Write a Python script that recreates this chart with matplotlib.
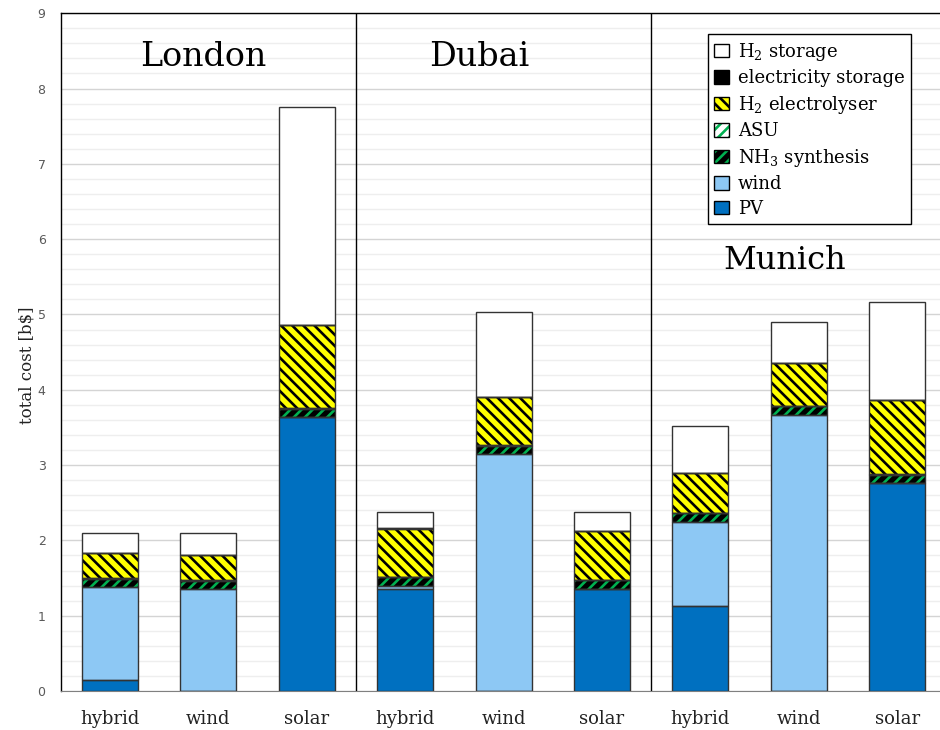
import matplotlib
matplotlib.use("Agg")
import matplotlib.pyplot as plt
import matplotlib.patches as mpatches
from matplotlib.ticker import MultipleLocator
import numpy as np

serif = "DejaVu Serif"
plt.rcParams["mathtext.fontset"] = "custom"
plt.rcParams["mathtext.rm"] = serif
plt.rcParams["mathtext.it"] = serif
plt.rcParams["hatch.linewidth"] = 1.9

cities = ["London", "Dubai", "Munich"]
scenarios = ["hybrid", "wind", "solar"]

# costs in b$, one entry per city/scenario (London x3, Dubai x3, Munich x3)
pv = [0.15, 0.00, 3.64, 1.35, 0.00, 1.36, 1.13, 0.00, 2.76]
wind = [1.23, 1.35, 0.00, 0.05, 3.15, 0.00, 1.12, 3.67, 0.00]
nh3 = [0.11, 0.11, 0.11, 0.11, 0.11, 0.11, 0.11, 0.11, 0.11]
asu = [0.01, 0.01, 0.01, 0.01, 0.01, 0.01, 0.01, 0.01, 0.01]
electrolyser = [0.33, 0.34, 1.10, 0.63, 0.63, 0.65, 0.52, 0.57, 0.98]
el_storage = [0.00, 0.00, 0.00, 0.01, 0.00, 0.00, 0.00, 0.00, 0.00]
h2_storage = [0.27, 0.29, 2.90, 0.22, 1.13, 0.25, 0.63, 0.54, 1.31]

fwd = "/" * 3
back = chr(92) * 3

# (values, label, face, hatch, hatch colour), bottom to top
layers = [
    (pv, "PV", "#0070C0", None, None),
    (wind, "wind", "#8DC8F4", None, None),
    (nh3, "NH$_3$ synthesis", "black", fwd, "#00B050"),
    (asu, "ASU", "white", fwd, "#00B050"),
    (electrolyser, "H$_2$ electrolyser", "#FFFF00", back, "black"),
    (el_storage, "electricity storage", "black", None, None),
    (h2_storage, "H$_2$ storage", "white", None, None),
]

fig = plt.figure(figsize=(9.4, 7.3), dpi=100)
ax = fig.add_axes([0.0647, 0.0534, 0.942, 0.9285])

x = np.arange(len(pv))
width = 0.57
edge = "#333333"
bottom = np.zeros(len(pv))
handles = []
for vals, label, face, hatch, hcol in layers:
    vals = np.array(vals)
    if hatch:
        ax.bar(x, vals, width, bottom=bottom, color=face, edgecolor=hcol,
               hatch=hatch, linewidth=0, zorder=3)
        fill = mpatches.Patch(facecolor=face, edgecolor=hcol, hatch=hatch, linewidth=0)
    else:
        ax.bar(x, vals, width, bottom=bottom, color=face, linewidth=0, zorder=3)
        fill = mpatches.Patch(facecolor=face, linewidth=0)
    ax.bar(x, vals, width, bottom=bottom, facecolor="none", edgecolor=edge,
           linewidth=1.0, zorder=4)
    outline = mpatches.Patch(facecolor="none", edgecolor="black", linewidth=1.0)
    handles.append((fill, outline))
    bottom += vals

ax.set_xlim(-0.5, 8.5)
ax.set_ylim(0, 9)
ax.set_xticks(x)
ax.set_xticklabels(scenarios * 3, fontfamily=serif, fontsize=13, color="#222222")
ax.tick_params(axis="x", length=0, pad=14)
ax.yaxis.set_major_locator(MultipleLocator(1))
ax.yaxis.set_minor_locator(MultipleLocator(0.2))
ax.tick_params(axis="y", which="both", length=0, labelsize=9, labelcolor="#595959", pad=11)
ax.grid(axis="y", which="major", color="#d4d4d4", linewidth=1.0, zorder=0)
ax.grid(axis="y", which="minor", color="#eeeeee", linewidth=1.0, zorder=0)
ax.set_axisbelow(True)
ax.set_ylabel("total cost [b$]", fontfamily=serif, fontsize=12, color="#222222")
ax.yaxis.set_label_coords(-0.029, 0.481)

for s in ["left", "top"]:
    ax.spines[s].set_color("black")
    ax.spines[s].set_linewidth(1.0)
ax.spines["bottom"].set_color("#808080")
ax.spines["right"].set_visible(False)

for sep in [2.5, 5.5]:
    ax.axvline(sep, color="black", linewidth=1.0, zorder=5)

ax.text(0.95, 8.42, cities[0], ha="center", va="center", fontfamily=serif, fontsize=24)
ax.text(3.75, 8.42, cities[1], ha="center", va="center", fontfamily=serif, fontsize=24)
ax.text(6.86, 5.72, cities[2], ha="center", va="center", fontfamily=serif, fontsize=23)

leg = ax.legend(handles[::-1], [l[1] for l in layers][::-1],
                loc="upper right", bbox_to_anchor=(0.970, 0.982),
                prop={"family": serif, "size": 13}, frameon=True, fancybox=False,
                edgecolor="black", framealpha=1, handlelength=0.8, handleheight=0.8,
                handletextpad=0.5, labelspacing=0.36, borderpad=0.35)
leg.get_frame().set_linewidth(1.0)
leg.set_zorder(6)

fig.savefig("out.png", dpi=100)
